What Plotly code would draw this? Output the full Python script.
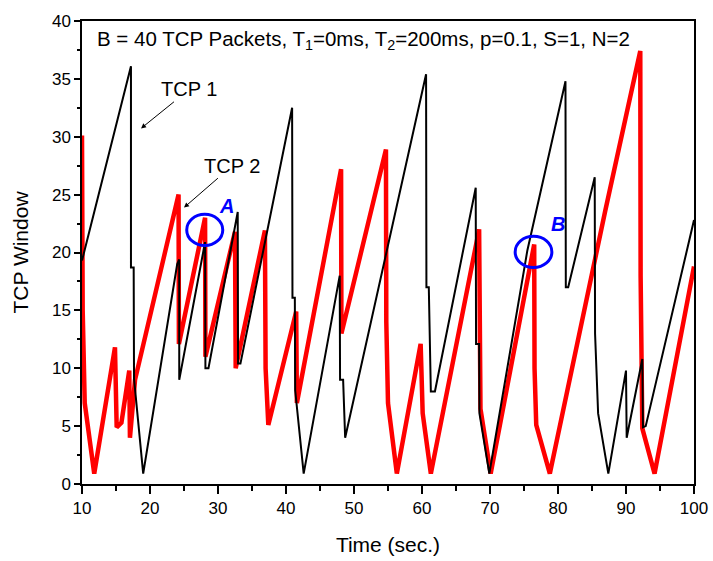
import plotly.graph_objects as go

# TCP 1 (black) window trace: time (s), window (packets)
tcp1_t = [10.0, 17.2, 17.2, 17.6, 17.65, 19.0, 24.0, 24.3, 24.3, 28.1, 28.15, 28.6,
          32.9, 32.95, 33.3, 40.9, 40.95, 41.3, 41.35, 42.6, 47.9, 47.95, 48.4, 48.7,
          60.6, 60.65, 61.0, 61.3, 61.9, 67.9, 67.95, 68.4, 68.45, 69.9, 75.5, 81.1,
          81.15, 81.5, 85.4, 85.45, 85.9, 87.4, 90.0, 90.1, 92.4, 92.5, 92.9, 100.0]
tcp1_w = [19.3, 36.1, 18.7, 18.7, 9.1, 0.9, 19.0, 19.4, 9.0, 20.9, 10.0, 10.0,
          23.5, 10.4, 10.4, 32.5, 16.1, 16.1, 8.1, 0.9, 18.0, 9.0, 9.0, 4.0,
          35.4, 17.0, 17.0, 8.0, 8.0, 25.6, 12.1, 12.1, 6.1, 0.9, 20.2, 34.8,
          17.0, 17.0, 26.5, 13.0, 6.1, 0.9, 9.8, 4.0, 10.8, 4.9, 5.0, 22.8]

# TCP 2 (red) window trace
tcp2_t = [10.0, 10.1, 10.4, 11.8, 14.85, 15.1, 15.8, 16.95, 17.05, 17.8, 24.2, 24.25,
          28.1, 28.15, 32.5, 32.6, 36.9, 37.0, 37.4, 41.5, 41.6, 48.1, 48.15, 54.7,
          54.75, 55.0, 56.3, 59.8, 60.1, 61.3, 68.4, 68.5, 68.6, 70.1, 76.5, 76.55,
          76.8, 78.8, 86.95, 92.1, 92.15, 92.4, 94.2, 100.0]
tcp2_w = [30.1, 15.0, 7.0, 0.9, 11.8, 4.9, 5.3, 9.8, 4.0, 9.0, 25.0, 12.1,
          23.0, 11.0, 21.8, 10.0, 21.9, 10.0, 5.1, 14.9, 7.0, 27.2, 13.0, 28.9,
          14.0, 7.0, 0.9, 12.1, 6.1, 0.9, 22.0, 12.1, 6.5, 0.9, 20.7, 10.0,
          5.1, 0.9, 23.6, 37.4, 18.0, 4.8, 0.9, 18.8]

x_ticks = [10, 20, 30, 40, 50, 60, 70, 80, 90, 100]
y_ticks = [0, 5, 10, 15, 20, 25, 30, 35, 40]

FONT = "Arial, Liberation Sans, sans-serif"

fig = go.Figure()
fig.add_trace(go.Scatter(x=tcp2_t, y=tcp2_w, mode="lines", name="TCP 2",
                         line=dict(color="#ff0000", width=4.5)))
fig.add_trace(go.Scatter(x=tcp1_t, y=tcp1_w, mode="lines", name="TCP 1",
                         line=dict(color="black", width=2)))

# circles A and B
fig.add_shape(type="circle", xref="x", yref="y", x0=25.4, x1=30.7, y0=20.6, y1=23.3,
              line=dict(color="#0000ff", width=3))
fig.add_shape(type="circle", xref="x", yref="y", x0=73.7, x1=79.1, y0=18.7, y1=21.4,
              line=dict(color="#0000ff", width=3))

fig.add_annotation(x=31.3, y=24.0, text="<b><i>A</i></b>", showarrow=False,
                   font=dict(family=FONT, size=20, color="#0000ff"))
fig.add_annotation(x=80.0, y=22.5, text="<b><i>B</i></b>", showarrow=False,
                   font=dict(family=FONT, size=20, color="#0000ff"))

# labels with arrows (arrow drawn from the label box to the curve)
fig.add_annotation(x=18.68, y=30.72, ax=25.8, ay=34.1, axref="x", ayref="y",
                   text="TCP 1", showarrow=True, arrowhead=2, arrowsize=1, arrowwidth=1,
                   arrowcolor="black", font=dict(family=FONT, size=20, color="black"))
fig.add_annotation(x=25.0, y=23.88, ax=32.1, ay=27.5, axref="x", ayref="y",
                   text="TCP 2", showarrow=True, arrowhead=2, arrowsize=1, arrowwidth=1,
                   arrowcolor="black", font=dict(family=FONT, size=20, color="black"))

fig.add_annotation(xref="paper", yref="paper", x=0.021, y=0.958, xanchor="left",
                   yanchor="middle", showarrow=False,
                   text="B = 40 TCP Packets, T<sub>1</sub>=0ms, T<sub>2</sub>=200ms, p=0.1, S=1, N=2",
                   font=dict(family=FONT, size=20.5, color="black"))

fig.update_layout(
    width=713, height=561,
    margin=dict(l=82, r=19, t=21, b=77),
    paper_bgcolor="white", plot_bgcolor="white",
    showlegend=False,
    font=dict(family=FONT, color="black"),
)
fig.update_xaxes(range=[10, 100], tickvals=x_ticks, ticks="outside", ticklen=8,
                 tickwidth=1.5, tickcolor="black", showline=True, linecolor="black",
                 linewidth=1.5, mirror=True, showgrid=False, zeroline=False,
                 automargin=False,
                 tickfont=dict(family=FONT, size=17),
                 title=dict(text="Time (sec.)", font=dict(family=FONT, size=21), standoff=20),
                 minor=dict(dtick=5, ticks="outside", ticklen=5, tickwidth=1.5,
                            tickcolor="black", showgrid=False))
fig.update_yaxes(range=[0, 40], tickvals=y_ticks, ticks="outside", ticklen=6,
                 tickwidth=1.5, tickcolor="black", showline=True, linecolor="black",
                 linewidth=1.5, mirror=True, showgrid=False, zeroline=False,
                 automargin=False,
                 tickfont=dict(family=FONT, size=17),
                 title=dict(text="TCP Window", font=dict(family=FONT, size=21), standoff=18),
                 minor=dict(dtick=2.5, ticks="outside", ticklen=3, tickwidth=1.5,
                            tickcolor="black", showgrid=False))

fig.write_html("out.html")
